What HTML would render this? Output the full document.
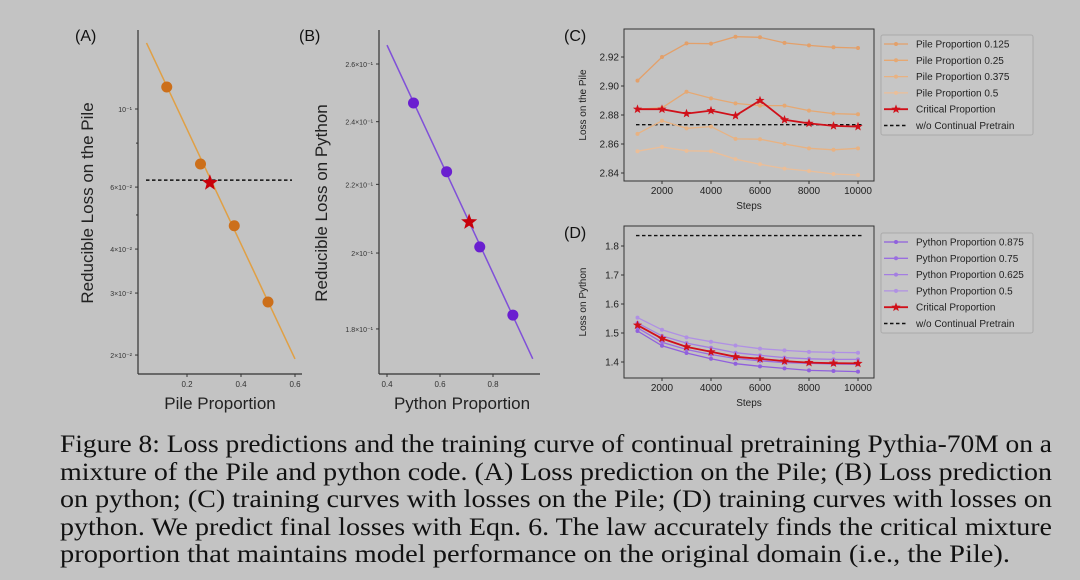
<!DOCTYPE html>
<html><head><meta charset="utf-8">
<style>
html,body{margin:0;padding:0;background:#c3c3c3;}
#root{position:relative;width:1080px;height:580px;overflow:hidden;background:#c3c3c3;}
svg{position:absolute;left:0;top:0;}
.cap{position:absolute;left:60px;font-family:"Liberation Serif",serif;font-size:25px;color:#111;white-space:nowrap;line-height:28px;transform-origin:0 0;display:inline-block;}
</style></head>
<body>
<div id="root">
<svg id="chart" width="1080" height="580" xmlns="http://www.w3.org/2000/svg"></svg>
<div class="cap" data-w="992" style="top:431px">Figure 8: Loss predictions and the training curve of continual pretraining Pythia-70M on a</div>
<div class="cap" data-w="992" style="top:459px">mixture of the Pile and python code. (A) Loss prediction on the Pile; (B) Loss prediction</div>
<div class="cap" data-w="992" style="top:486px">on python; (C) training curves with losses on the Pile; (D) training curves with losses on</div>
<div class="cap" data-w="992" style="top:514px">python. We predict final losses with Eqn. 6. The law accurately finds the critical mixture</div>
<div class="cap" data-w="950" style="top:541px">proportion that maintains model performance on the original domain (i.e., the Pile).</div>
</div>
<script>
// Panel A data
const aProps = [0.125, 0.25, 0.375, 0.5];
const aLoss = [0.1155, 0.0698, 0.0466, 0.0283];
const aFitX = [0.05, 0.6];
const aFitY = [0.154, 0.0195];
const aStar = [0.285, 0.0617];
const aDash = [0.0628];
const aXTicks = [0.2, 0.4, 0.6];
const aYTicks = [0.1, 0.06, 0.04, 0.03, 0.02];
const aYTickLabels = ["10⁻¹", "6×10⁻²", "4×10⁻²", "3×10⁻²", "2×10⁻²"];
// Panel B data
const bProps = [0.5, 0.625, 0.75, 0.875];
const bLoss = [0.2463, 0.2239, 0.2017, 0.1835];
const bFitX = [0.4, 0.95];
const bFitY = [0.2669, 0.1727];
const bStar = [0.71, 0.2088];
const bXTicks = [0.4, 0.6, 0.8];
const bYTicks = [0.26, 0.24, 0.22, 0.2, 0.18];
const bYTickLabels = ["2.6×10⁻¹", "2.4×10⁻¹", "2.2×10⁻¹", "2×10⁻¹", "1.8×10⁻¹"];
// Panel C / D data
const steps = [1000, 2000, 3000, 4000, 5000, 6000, 7000, 8000, 9000, 10000];
const stepTicks = [2000, 4000, 6000, 8000, 10000];
const cNames = ["Pile Proportion 0.125", "Pile Proportion 0.25", "Pile Proportion 0.375", "Pile Proportion 0.5"];
const c125 = [2.9037, 2.92, 2.9294, 2.9292, 2.934, 2.9336, 2.9297, 2.928, 2.9267, 2.9262];
const c25 = [2.884, 2.885, 2.896, 2.8915, 2.888, 2.8865, 2.8865, 2.883, 2.881, 2.8805];
const c375 = [2.867, 2.876, 2.8708, 2.872, 2.8635, 2.8633, 2.860, 2.857, 2.856, 2.857];
const c5 = [2.855, 2.858, 2.8553, 2.855, 2.8496, 2.846, 2.843, 2.8414, 2.8393, 2.8386];
const cCrit = [2.884, 2.884, 2.881, 2.883, 2.8795, 2.890, 2.8767, 2.8742, 2.8725, 2.872];
const cBase = [2.8733];
const cYTicks = [2.84, 2.86, 2.88, 2.90, 2.92];
const dNames = ["Python Proportion 0.875", "Python Proportion 0.75", "Python Proportion 0.625", "Python Proportion 0.5"];
const d875 = [1.507, 1.456, 1.431, 1.411, 1.394, 1.385, 1.378, 1.371, 1.369, 1.367];
const d75 = [1.518, 1.468, 1.443, 1.426, 1.412, 1.404, 1.398, 1.395, 1.393, 1.392];
const d625 = [1.535, 1.49, 1.465, 1.449, 1.432, 1.423, 1.415, 1.411, 1.409, 1.409];
const d5 = [1.553, 1.511, 1.485, 1.47, 1.457, 1.446, 1.44, 1.435, 1.433, 1.432];
const dCrit = [1.527, 1.481, 1.452, 1.435, 1.418, 1.411, 1.403, 1.398, 1.396, 1.395];
const dBase = [1.836];
const dYTicks = [1.4, 1.5, 1.6, 1.7, 1.8];

document.querySelectorAll('.cap').forEach(el => {
  const w = el.getBoundingClientRect().width;
  const target = +el.getAttribute('data-w');
  if (w > 0) el.style.transform = 'scaleX(' + (target / w) + ')';
});

const svg = document.getElementById('chart');
const NS = 'http://www.w3.org/2000/svg';
function mk(tag, attrs, parent) {
  const e = document.createElementNS(NS, tag);
  for (const k in attrs) e.setAttribute(k, attrs[k]);
  (parent || svg).appendChild(e);
  return e;
}
function txt(s, attrs, parent) { const t = mk('text', attrs, parent); t.textContent = s; return t; }
function star(cx, cy, r, fill, parent) {
  let p = [];
  for (let i = 0; i < 10; i++) {
    const a = -Math.PI / 2 + i * Math.PI / 5;
    const rr = i % 2 ? r * 0.42 : r;
    p.push((cx + rr * Math.cos(a)).toFixed(1) + ',' + (cy + rr * Math.sin(a)).toFixed(1));
  }
  return mk('polygon', { points: p.join(' '), fill: fill }, parent);
}
const F = '"Liberation Sans", sans-serif';

// ---------- Panel A ----------
{
  const g = mk('g', {});
  
  
  const xs = v => 133 + v * 270;
  const ys = v => 109 + (-1 - Math.log10(v)) * 352;
  mk('line', { x1: 138, y1: 30, x2: 138, y2: 374, stroke: '#333', 'stroke-width': 1.2 }, g);
  mk('line', { x1: 138, y1: 374, x2: 302, y2: 374, stroke: '#333', 'stroke-width': 1.2 }, g);
  aXTicks.forEach(t => {
    mk('line', { x1: xs(t), y1: 374, x2: xs(t), y2: 377, stroke: '#333' }, g);
    txt(t.toFixed(1), { x: xs(t), y: 387, 'font-size': 8, 'text-anchor': 'middle', 'font-family': F, fill: '#333' }, g);
  });
  aYTicks.forEach((t, i) => {
    mk('line', { x1: 135, y1: ys(t), x2: 138, y2: ys(t), stroke: '#333' }, g);
    txt(aYTickLabels[i], { x: 132, y: ys(t) + 3, 'font-size': 7, 'text-anchor': 'end', 'font-family': F, fill: '#333' }, g);
  });
  [0.08, 0.05].forEach(t => mk('line', { x1: 136, y1: ys(t), x2: 138, y2: ys(t), stroke: '#333' }, g));
  const fit = mk('line', { x1: xs(aFitX[0]), y1: ys(aFitY[0]), x2: xs(aFitX[1]), y2: ys(aFitY[1]), stroke: '#e0a045', 'stroke-width': 1.5 }, g);
  
  
  const dl = mk('line', { x1: 146, y1: ys(aDash[0]), x2: 292, y2: ys(aDash[0]), stroke: '#111', 'stroke-width': 1.5, 'stroke-dasharray': '3.5,2.5' }, g);
  
  
  aProps.forEach((p, i) => {
    const c = mk('circle', { cx: xs(p), cy: ys(aLoss[i]), r: 5.5, fill: '#cc6f1a' }, g);
    
    
  });
  const s = star(xs(aStar[0]), ys(aStar[1]), 8.5, '#c8000a', g);
  
  
  txt('(A)', { x: 75, y: 41, 'font-size': 16, 'font-family': F, fill: '#111' }, g);
  txt('Pile Proportion', { x: 220, y: 409, 'font-size': 17, 'text-anchor': 'middle', 'font-family': F, fill: '#222' }, g);
  txt('Reducible Loss on the Pile', { x: 93, y: 203, 'font-size': 17, 'text-anchor': 'middle', 'font-family': F, fill: '#222', transform: 'rotate(-90 93 203)' }, g);
}
// ---------- Panel B ----------
{
  const g = mk('g', {});
  
  
  const xs = v => 281 + v * 265;
  const ys = v => 64 + (Math.log10(0.26) - Math.log10(v)) * 1659;
  mk('line', { x1: 379, y1: 30, x2: 379, y2: 374, stroke: '#333', 'stroke-width': 1.2 }, g);
  mk('line', { x1: 379, y1: 374, x2: 540, y2: 374, stroke: '#333', 'stroke-width': 1.2 }, g);
  bXTicks.forEach(t => {
    mk('line', { x1: xs(t), y1: 374, x2: xs(t), y2: 377, stroke: '#333' }, g);
    txt(t.toFixed(1), { x: xs(t), y: 387, 'font-size': 8, 'text-anchor': 'middle', 'font-family': F, fill: '#333' }, g);
  });
  bYTicks.forEach((t, i) => {
    mk('line', { x1: 376, y1: ys(t), x2: 379, y2: ys(t), stroke: '#333' }, g);
    txt(bYTickLabels[i], { x: 373, y: ys(t) + 3, 'font-size': 7, 'text-anchor': 'end', 'font-family': F, fill: '#333' }, g);
  });
  const fit = mk('line', { x1: xs(bFitX[0]), y1: ys(bFitY[0]), x2: xs(bFitX[1]), y2: ys(bFitY[1]), stroke: '#8050d8', 'stroke-width': 1.5 }, g);
  
  
  bProps.forEach((p, i) => {
    const c = mk('circle', { cx: xs(p), cy: ys(bLoss[i]), r: 5.5, fill: '#6a1fd0' }, g);
    
    
  });
  const s = star(xs(bStar[0]), ys(bStar[1]), 8.5, '#c8000a', g);
  
  
  txt('(B)', { x: 299, y: 41, 'font-size': 16, 'font-family': F, fill: '#111' }, g);
  txt('Python Proportion', { x: 462, y: 409, 'font-size': 17, 'text-anchor': 'middle', 'font-family': F, fill: '#222' }, g);
  txt('Reducible Loss on Python', { x: 327, y: 203, 'font-size': 17, 'text-anchor': 'middle', 'font-family': F, fill: '#222', transform: 'rotate(-90 327 203)' }, g);
}
// ---------- Line panels ----------
function linePanel(opt) {
  const g = mk('g', {});
  
  
  const L = 624, R = 874, T = opt.top, B = opt.top + 152;
  const xs = v => 637.5 + (v - 1000) * 0.0245;
  const ys = opt.ys;
  mk('rect', { x: L, y: T, width: R - L, height: B - T, fill: 'none', stroke: '#333', 'stroke-width': 1 }, g);
  stepTicks.forEach(t => {
    mk('line', { x1: xs(t), y1: B, x2: xs(t), y2: B + 3, stroke: '#333' }, g);
    txt(String(t), { x: xs(t), y: B + 13, 'font-size': 10, 'text-anchor': 'middle', 'font-family': F, fill: '#222' }, g);
  });
  opt.yTicks.forEach(t => {
    mk('line', { x1: L - 3, y1: ys(t), x2: L, y2: ys(t), stroke: '#333' }, g);
    txt(t.toFixed(opt.dec), { x: L - 5, y: ys(t) + 3.5, 'font-size': 10, 'text-anchor': 'end', 'font-family': F, fill: '#222' }, g);
  });
  txt('Steps', { x: 749, y: B + 28, 'font-size': 10, 'text-anchor': 'middle', 'font-family': F, fill: '#222' }, g);
  txt(opt.ylab, { x: 586, y: (T + B) / 2, 'font-size': 10, 'text-anchor': 'middle', 'font-family': F, fill: '#222', transform: 'rotate(-90 586 ' + (T + B) / 2 + ')' }, g);
  txt(opt.label, { x: 564, y: T + 12, 'font-size': 16, 'font-family': F, fill: '#111' }, g);
  const bl = mk('line', { x1: 636, y1: ys(opt.base[0]), x2: 862, y2: ys(opt.base[0]), stroke: '#111', 'stroke-width': 1.4, 'stroke-dasharray': '3.5,2.5' }, g);
  
  
  opt.series.forEach((s, k) => {
    const pts = steps.map((x, i) => xs(x).toFixed(1) + ',' + ys(s[i]).toFixed(1)).join(' ');
    const pl = mk('polyline', { points: pts, fill: 'none', stroke: opt.colors[k], 'stroke-width': 1.3 }, g);
    
    
    steps.forEach((x, i) => mk('circle', { cx: xs(x), cy: ys(s[i]), r: 2, fill: opt.colors[k] }, g));
  });
  const cp = steps.map((x, i) => xs(x).toFixed(1) + ',' + ys(opt.crit[i]).toFixed(1)).join(' ');
  const cl = mk('polyline', { points: cp, fill: 'none', stroke: '#d0101a', 'stroke-width': 1.8 }, g);
  
  
  steps.forEach((x, i) => star(xs(x), ys(opt.crit[i]), 4.8, '#d0101a', g));
  const lg = mk('g', {}, g);
  
  
  const lt = opt.legTop;
  mk('rect', { x: 881, y: lt, width: 152, height: 100, fill: '#c6c6c6', stroke: '#aaa', 'stroke-width': 1, rx: 2 }, lg);
  const names = opt.names.concat(['Critical Proportion', 'w/o Continual Pretrain']);
  names.forEach((n, i) => {
    const y = lt + 9 + i * 16.3;
    if (i < 4) {
      mk('line', { x1: 884, y1: y, x2: 908, y2: y, stroke: opt.colors[i], 'stroke-width': 1.3 }, lg);
      mk('circle', { cx: 896, cy: y, r: 2, fill: opt.colors[i] }, lg);
    } else if (i === 4) {
      mk('line', { x1: 884, y1: y, x2: 908, y2: y, stroke: '#d0101a', 'stroke-width': 1.8 }, lg);
      star(896, y, 4.8, '#d0101a', lg);
    } else {
      mk('line', { x1: 884, y1: y, x2: 908, y2: y, stroke: '#111', 'stroke-width': 1.4, 'stroke-dasharray': '3.5,2.5' }, lg);
    }
    const t = txt(n, { x: 916, y: y + 3.5, 'font-size': 10, 'font-family': F, fill: '#222' }, lg);
    
    
  });
}
linePanel({
  name: 'panel-c', top: 29, label: '(C)', ylab: 'Loss on the Pile', dec: 2,
  ys: v => 57 + (2.92 - v) * 1450, yTicks: cYTicks, base: cBase,
  series: [c125, c25, c375, c5], crit: cCrit, names: cNames,
  colors: ['#e3a06a', '#e6a872', '#e8b282', '#ebbe98'], legTop: 35
});
linePanel({
  name: 'panel-d', top: 226, label: '(D)', ylab: 'Loss on Python', dec: 1,
  ys: v => 362 + (1.4 - v) * 290, yTicks: dYTicks, base: dBase,
  series: [d875, d75, d625, d5], crit: dCrit, names: dNames,
  colors: ['#9060dd', '#9a6ee0', '#a47ee2', '#b090e4'], legTop: 233
});
</script>
</body></html>
